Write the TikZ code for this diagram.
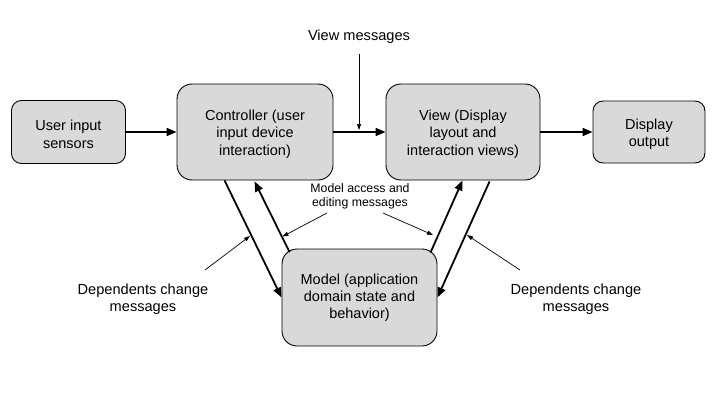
\documentclass[tikz,border=0pt]{standalone}
\usepackage{fontspec}
\setmainfont{Liberation Sans}
\usetikzlibrary{arrows.meta,calc}
\definecolor{boxgray}{HTML}{D9D9D9}
\newcommand\tstrut{\rule{0pt}{15pt}}
\tikzset{
  box/.style={draw=black, line width=0.9pt, fill=boxgray, align=center,
    font=\fontsize{14.5}{17.2}\selectfont, inner sep=0pt},
  smallbox/.style={box, rounded corners=10pt},
  bigbox/.style={box, rounded corners=15pt},
  flow/.style={line width=1.8pt, -{Triangle[length=10pt,width=8pt]}},
  pointer/.style={line width=0.7pt, -{Triangle[length=6pt,width=4pt]}},
  lbl/.style={align=center, font=\fontsize{14.6}{17.2}\selectfont, inner sep=0pt},
  slbl/.style={align=center, font=\fontsize{12.3}{14.2}\selectfont, inner sep=0pt}
}
\begin{document}
\begin{tikzpicture}[x=1pt,y=-1pt]
\useasboundingbox (0,0) rectangle (720,420);
\node[smallbox, minimum width=114pt, minimum height=63pt] (user) at (68.5,132) {\tstrut User input\\sensors};
\node[bigbox, minimum width=156pt, minimum height=96pt] (ctrl) at (255,132) {\tstrut Controller (user\\input device\\interaction)};
\node[bigbox, minimum width=154pt, minimum height=96pt] (view) at (463,132) {\tstrut View (Display\\layout and\\interaction views)};
\node[smallbox, minimum width=112pt, minimum height=62pt] (disp) at (649,132) {\tstrut Display\\output};
\node[bigbox, minimum width=155pt, minimum height=97pt] (model) at (359.5,297.5) {Model (application\\domain state and\\behavior)};

\draw[flow] (user.east) -- (ctrl.west);
\draw[flow] (ctrl.east) -- (view.west);
\draw[flow] (view.east) -- (disp.west);

\draw[flow] ($(ctrl.south west)+(48,0)$) -- (model.west);
\draw[flow] (289.5,252) coordinate (mlu) -- ($(ctrl.south west)+(78,1)$);
\draw[flow] (430.5,252.5) coordinate (mru) -- ($(view.south west)+(77,0)$);
\draw[flow] ($(view.south west)+(104,1)$) -- (model.east);

\node[lbl] (vm) at (359,37) {View messages};
\coordinate (vmtip) at (359,130);
\draw[pointer] (359,54) -- (vmtip);

\node[slbl] (ma) at (360,196) {Model access and\\editing messages};
\coordinate (mal) at (282.5,236.5);
\coordinate (mar) at (433,235);
\draw[pointer] (327,213) -- (mal);
\draw[pointer] (383,213) -- (mar);

\node[lbl] (dl) at (143,299) {Dependents change\\messages};
\coordinate (dlt) at (250,236);
\draw[pointer] (205,270) -- (dlt);

\node[lbl] (dr) at (576,299) {Dependents change\\messages};
\coordinate (drt) at (467,235);
\draw[pointer] (520,270) -- (drt);
\end{tikzpicture}
\end{document}
